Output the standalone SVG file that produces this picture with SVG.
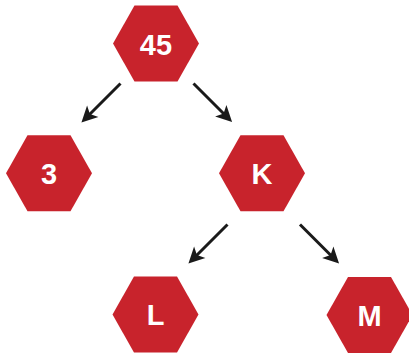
<svg xmlns="http://www.w3.org/2000/svg" width="409" height="356" viewBox="0 0 409 356">
<style>
.node polygon{fill:#C8232C;}
.node text{fill:#ffffff;font-family:"Liberation Sans",Arial,sans-serif;font-weight:bold;font-size:29px;text-anchor:middle;}
.edge{stroke:#1a1a1a;stroke-width:3;fill:none;marker-end:url(#arrow);}
</style>
<defs>
<marker id="arrow" markerUnits="userSpaceOnUse" markerWidth="18" markerHeight="18" refX="6" refY="8" orient="auto" overflow="visible">
<path d="M0,0 L16,8 L0,16 L4,8 z" fill="#1a1a1a"/>
</marker>
</defs>
<rect width="409" height="356" fill="#ffffff"/>
<g id="connectors">
<line class="edge" x1="120.5" y1="83.5" x2="88.5" y2="115.5"/>
<line class="edge" x1="193.5" y1="83.5" x2="225" y2="115"/>
<line class="edge" x1="227.5" y1="224.5" x2="195.5" y2="256.5"/>
<line class="edge" x1="300" y1="224.5" x2="332" y2="256.5"/>
</g>
<g id="node-45" class="node">
<polygon points="113,43.5 134.5,5.5 177.5,5.5 199,43.5 177.5,81.5 134.5,81.5"/>
<text x="156" y="54.5">45</text>
</g>
<g id="node-3" class="node">
<polygon points="6,173.3 27.5,135.3 70.5,135.3 92,173.3 70.5,211.3 27.5,211.3"/>
<text x="49" y="184">3</text>
</g>
<g id="node-K" class="node">
<polygon points="219,173.3 240.5,135.3 283.5,135.3 305,173.3 283.5,211.3 240.5,211.3"/>
<text x="262" y="184">K</text>
</g>
<g id="node-L" class="node">
<polygon points="112.5,314.5 134,276.5 177,276.5 198.5,314.5 177,352.5 134,352.5"/>
<text x="155.5" y="325">L</text>
</g>
<g id="node-M" class="node">
<polygon points="326.5,315 348,277 391,277 412.5,315 391,353 348,353"/>
<text x="369.5" y="325.5">M</text>
</g>
</svg>
